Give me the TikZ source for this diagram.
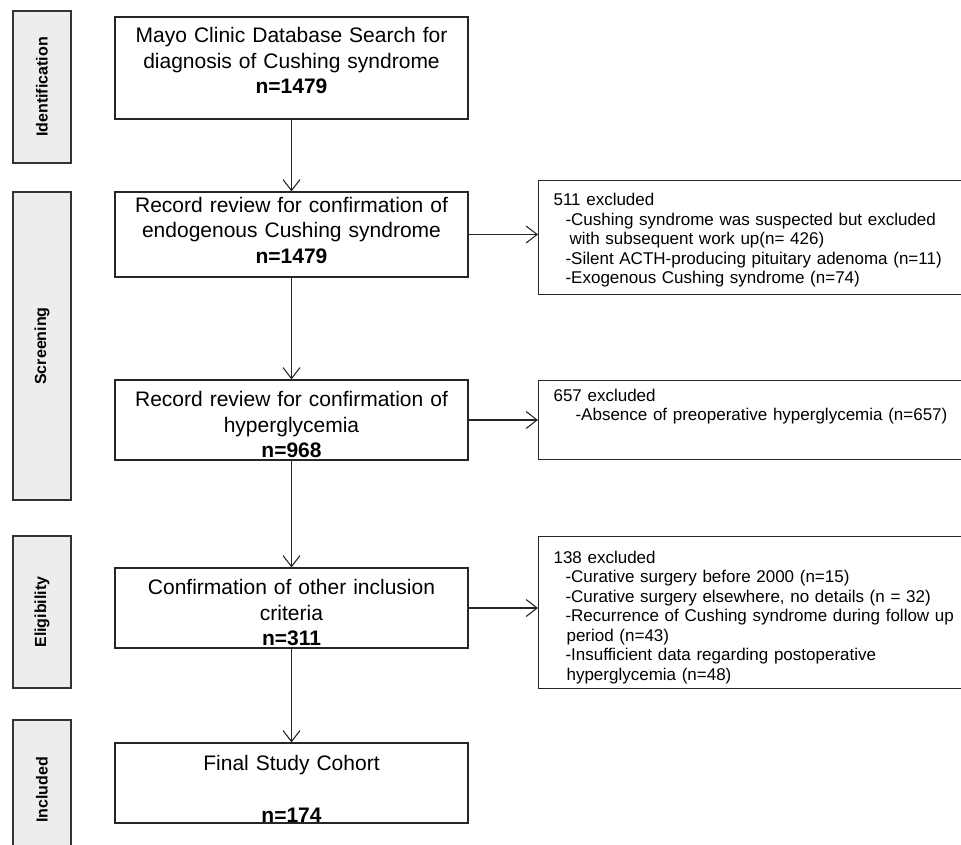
\documentclass[tikz,border=0pt]{standalone}
\usepackage{fontspec}
\setmainfont{Liberation Sans}
\usepackage{tikz}
\usetikzlibrary{arrows.meta}

\tikzset{
  stage/.style={draw=black!80, fill=black!7, line width=1.1pt, rotate=90,
                minimum height=58pt, inner sep=0pt,
                font=\fontsize{16}{18}\selectfont\bfseries},
  flowbox/.style={draw=black!85, line width=1.1pt, minimum width=353pt,
                  text width=340pt, align=center, inner sep=0pt,
                  font=\fontsize{21}{25.5}\selectfont},
  exclbox/.style={draw=black!85, line width=1.1pt, anchor=north west,
                  text width=440pt, align=left, inner xsep=15pt, inner ysep=0pt,
                  font=\fontsize{17}{19.5}\selectfont},
  flowarrow/.style={draw=black!85, line width=1.1pt,
                    -{Straight Barb[length=11pt,width=17pt]}}
}
\newcommand{\dashind}{\hspace*{12pt}}

\begin{document}
\begin{tikzpicture}[x=1pt,y=-1pt]
\useasboundingbox (0,0) rectangle (961,844);
\clip (0,0) rectangle (961,844);
%
% stages on the left
\node[stage, minimum width=152pt] (ident) at (42,87) {Identification};
\node[stage, minimum width=308pt] (screen) at (42,346) {Screening};
\node[stage, minimum width=152pt] (elig) at (42,612) {Eligibility};
\node[stage, minimum width=140pt] (incl) at (42,790) {Included};
%
% main flow
\node[flowbox, minimum height=102pt] (search) at (291.5,68)
  {Mayo Clinic Database Search for\\ diagnosis of Cushing syndrome\\ \textbf{n=1479}\rule[-15pt]{0pt}{15pt}};
\node[flowbox, minimum height=85pt] (endo) at (291.5,234.5)
  {Record review for confirmation of\\ endogenous Cushing syndrome\\ \textbf{n=1479}\rule[-9pt]{0pt}{9pt}};
\node[flowbox, minimum height=80pt] (hyper) at (291.5,420)
  {\rule{0pt}{25pt}Record review for confirmation of\\ hyperglycemia\\ \textbf{n=968}};
\node[flowbox, minimum height=80pt] (other) at (291.5,608)
  {\rule{0pt}{25pt}Confirmation of other inclusion\\ criteria\\ \textbf{n=311}};
\node[flowbox, minimum height=80pt] (cohort) at (291.5,783)
  {\rule{0pt}{27pt}Final Study Cohort\\[26.5pt] \textbf{n=174}};
%
% exclusions
\node[exclbox, minimum height=114pt] (excl1) at (538,180)
  {\rule{0pt}{18pt}511 excluded\\
   \dashind-Cushing syndrome was suspected but excluded\\
   \hspace*{16pt}with subsequent work up(n= 426)\\
   \dashind-Silent ACTH-producing pituitary adenoma (n=11)\\
   \dashind-Exogenous Cushing syndrome (n=74)};
\node[exclbox, minimum height=79pt] (excl2) at (538,380)
  {657 excluded\\
   \hspace*{22pt}-Absence of preoperative hyperglycemia (n=657)\rule[-30pt]{0pt}{30pt}};
\node[exclbox, minimum height=152pt] (excl3) at (538,536)
  {\rule{0pt}{22pt}138 excluded\\
   \dashind-Curative surgery before 2000 (n=15)\\
   \dashind-Curative surgery elsewhere, no details (n = 32)\\
   \dashind-Recurrence of Cushing syndrome during follow up\\
   \hspace*{13pt}period (n=43)\\
   \dashind-Insufficient data regarding postoperative\\
   \hspace*{13pt}hyperglycemia (n=48)};
%
\draw[flowarrow] (search.south) -- (endo.north);
\draw[flowarrow] (endo.south) -- (hyper.north);
\draw[flowarrow] (hyper.south) -- (other.north);
\draw[flowarrow] (other.south) -- (cohort.north);
\draw[flowarrow] (endo.east) -- (endo.east -| excl1.west);
\draw[flowarrow] (hyper.east) -- (hyper.east -| excl2.west);
\draw[flowarrow] (other.east) -- (other.east -| excl3.west);
%
\end{tikzpicture}
\end{document}
